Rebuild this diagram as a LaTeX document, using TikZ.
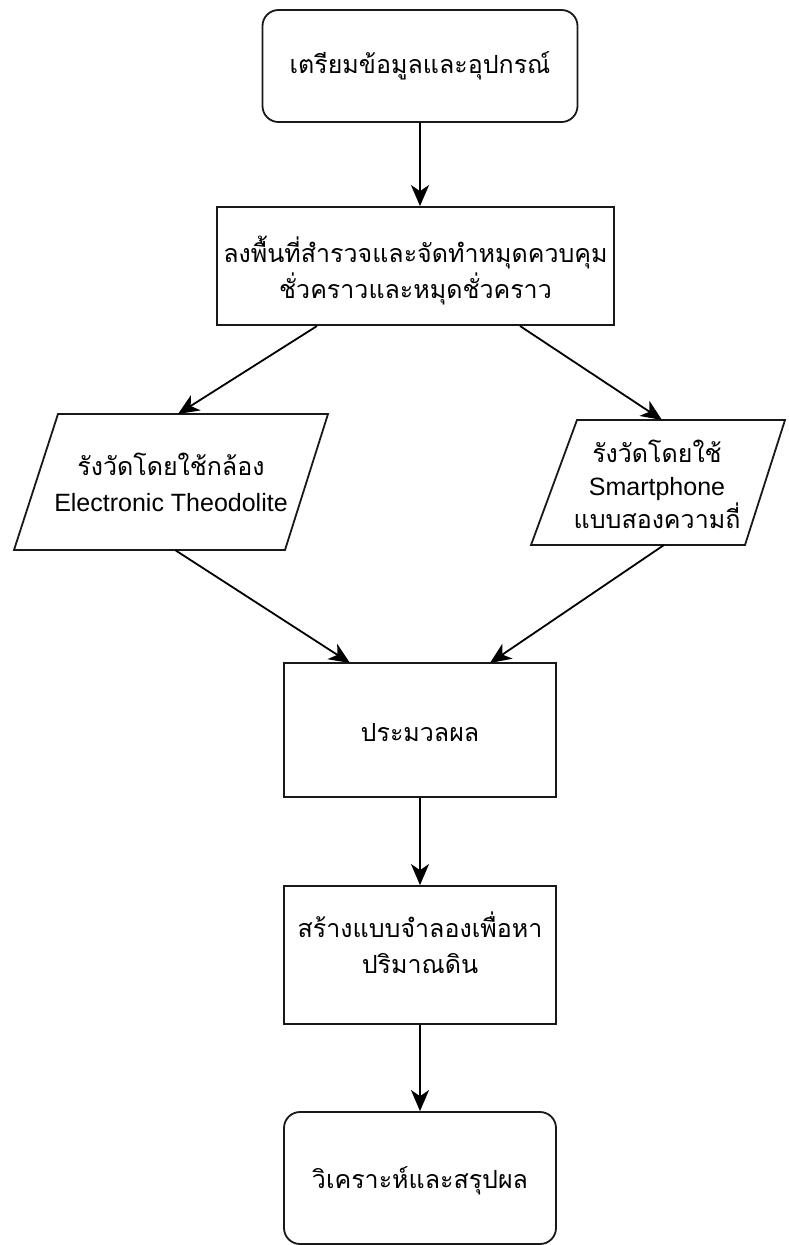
\documentclass[tikz,border=0pt]{standalone}
\usepackage{fontspec}
\setmainfont{Liberation Sans}
\newfontfamily\thai[Script=Thai]{Loma}
\usetikzlibrary{arrows.meta}
\tikzset{
  box/.style={draw=black!90, line width=1.8pt, fill=white, inner sep=0pt, align=center},
  rbox/.style={box, rounded corners=16pt},
  shape para/.style={draw=black!90, line width=1.8pt, fill=white},
  txt/.style={inner sep=0pt, align=center, font=\fontsize{25}{36}\selectfont\thai},
  arr/.style={draw=black, line width=1.8pt, -{Stealth[length=21pt,width=18pt,inset=6pt]}},
}
\begin{document}
\begin{tikzpicture}[x=1pt,y=-1pt]
\useasboundingbox (0,0) rectangle (789,1245);
% boxes
\node[rbox, minimum width=315pt, minimum height=112pt] (b1) at (420,66) {};
\node[txt] (t1) at (420,66) {เตรียมข้อมูลและอุปกรณ์};
\node[box, minimum width=397pt, minimum height=118pt] (b2) at (415.5,266) {};
\node[txt] (t2) at (415.5,271) {ลงพื้นที่สำรวจและจัดทำหมุดควบคุม\\ชั่วคราวและหมุดชั่วคราว};
% parallelograms
\draw[shape para] (58,414) -- (328,414) -- (285,550) -- (14,550) -- cycle;
\node[txt] (t3) at (171,482) {รังวัดโดยใช้กล้อง\\{\fontspec{Liberation Sans}Electronic Theodolite}};
\coordinate (p1n) at (178,414);
\coordinate (p1s) at (175,550);
\draw[shape para] (577,420) -- (785,420) -- (745,545) -- (531,545) -- cycle;
\node[txt, font=\fontsize{25}{33}\selectfont\thai] (t4) at (657,484) {รังวัดโดยใช้\\{\fontspec{Liberation Sans}Smartphone}\\แบบสองความถี่};
\coordinate (p2n) at (662,420);
\coordinate (p2s) at (664,545);
\node[box, minimum width=272pt, minimum height=134pt] (b5) at (420,730) {};
\node[txt] (t5) at (420,733) {ประมวลผล};
\node[box, minimum width=272pt, minimum height=138pt] (b6) at (420,955) {};
\node[txt] (t6) at (420,943) {สร้างแบบจำลองเพื่อหา\\ปริมาณดิน};
\node[rbox, minimum width=272pt, minimum height=132pt] (b7) at (420,1178) {};
\node[txt] (t7) at (420,1181) {วิเคราะห์และสรุปผล};
% connectors
\coordinate (b2l) at (317,326);
\coordinate (b2r) at (520,326);
\coordinate (b5l) at (350,663);
\coordinate (b5r) at (490,663);
\draw[arr] (b1.south) -- (b1.south |- b2.north);
\draw[arr] (b2l) -- (p1n);
\draw[arr] (b2r) -- (p2n);
\draw[arr] (p1s) -- (b5l);
\draw[arr] (p2s) -- (b5r);
\draw[arr] (b5.south) -- (b6.north);
\draw[arr] (b6.south) -- (b7.north);
\end{tikzpicture}
\end{document}
